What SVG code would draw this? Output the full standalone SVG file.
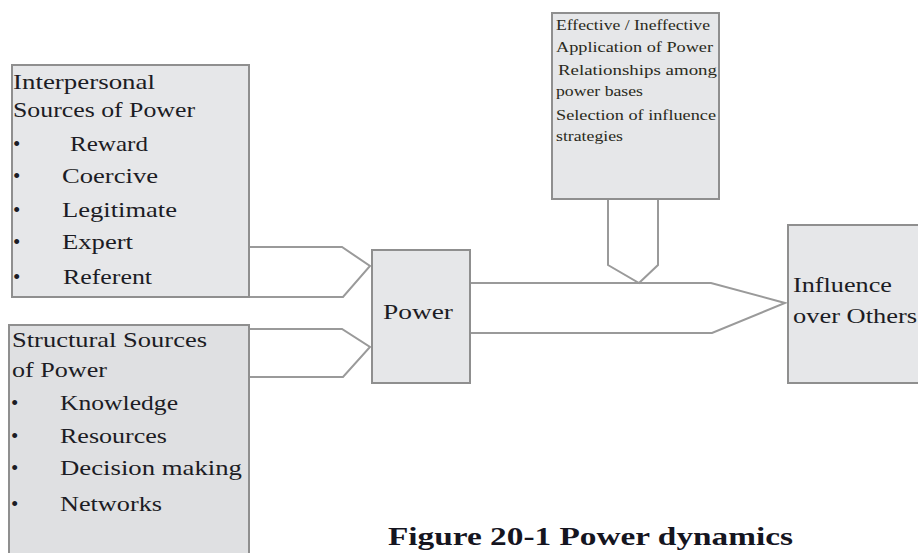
<svg xmlns="http://www.w3.org/2000/svg" width="918" height="553" viewBox="0 0 918 553">
<style>
.box{fill:#e6e7e9;stroke:#8f8f8f;stroke-width:2}
.box2{fill:#dfe0e2;stroke:#8f8f8f;stroke-width:2}
.con{fill:none;stroke:#9a9a9a;stroke-width:2;stroke-linejoin:miter}
.t{font-family:"Liberation Serif","Times New Roman",serif;font-size:21px;fill:#1c1c24}
.s{font-family:"Liberation Serif","Times New Roman",serif;font-size:15px;fill:#2a2a20}
.cap{font-family:"Liberation Serif","Times New Roman",serif;font-size:26px;font-weight:bold;fill:#15151f}
</style>
<rect width="918" height="553" fill="#ffffff"/>
<g id="connectors">
<path class="con" d="M249,247 H342 L370,266 L343,297 H249"/>
<path class="con" d="M249,329 H342 L370,347 L343,377 H249"/>
<path class="con" d="M470,283 H711 L785,303 L712,333 H470"/>
<path class="con" d="M608,199 V265 L639,283 L658,265 V199"/>
</g>
<g id="node-interpersonal">
<rect class="box" x="12" y="65" width="237" height="232"/>
<text class="t" x="13" y="89" textLength="142" lengthAdjust="spacingAndGlyphs">Interpersonal</text>
<text class="t" x="13" y="117" textLength="182" lengthAdjust="spacingAndGlyphs">Sources of Power</text>
<text class="t" x="13" y="151">•</text>
<text class="t" x="70" y="151" textLength="78" lengthAdjust="spacingAndGlyphs">Reward</text>
<text class="t" x="13" y="183">•</text>
<text class="t" x="62" y="183" textLength="96" lengthAdjust="spacingAndGlyphs">Coercive</text>
<text class="t" x="13" y="217">•</text>
<text class="t" x="62" y="217" textLength="115" lengthAdjust="spacingAndGlyphs">Legitimate</text>
<text class="t" x="13" y="249">•</text>
<text class="t" x="62" y="249" textLength="71" lengthAdjust="spacingAndGlyphs">Expert</text>
<text class="t" x="13" y="284">•</text>
<text class="t" x="63" y="284" textLength="89" lengthAdjust="spacingAndGlyphs">Referent</text>
</g>
<g id="node-structural">
<rect class="box2" x="9" y="325" width="240" height="240"/>
<text class="t" x="12" y="347" textLength="195" lengthAdjust="spacingAndGlyphs">Structural Sources</text>
<text class="t" x="12" y="377" textLength="95" lengthAdjust="spacingAndGlyphs">of Power</text>
<text class="t" x="11" y="410">•</text>
<text class="t" x="60" y="410" textLength="118" lengthAdjust="spacingAndGlyphs">Knowledge</text>
<text class="t" x="11" y="443">•</text>
<text class="t" x="60" y="443" textLength="107" lengthAdjust="spacingAndGlyphs">Resources</text>
<text class="t" x="11" y="475">•</text>
<text class="t" x="60" y="475" textLength="182" lengthAdjust="spacingAndGlyphs">Decision making</text>
<text class="t" x="11" y="511">•</text>
<text class="t" x="60" y="511" textLength="102" lengthAdjust="spacingAndGlyphs">Networks</text>
</g>
<g id="node-power">
<rect class="box" x="372" y="250" width="98" height="133"/>
<text class="t" x="383" y="319" font-size="25" textLength="70" lengthAdjust="spacingAndGlyphs">Power</text>
</g>
<g id="node-application">
<rect class="box" x="552" y="13" width="167" height="186"/>
<text class="s" x="556" y="30" textLength="154" lengthAdjust="spacingAndGlyphs">Effective / Ineffective</text>
<text class="s" x="556" y="52" textLength="157" lengthAdjust="spacingAndGlyphs">Application of Power</text>
<text class="s" x="558" y="75" textLength="159" lengthAdjust="spacingAndGlyphs">Relationships among</text>
<text class="s" x="556" y="96" textLength="87" lengthAdjust="spacingAndGlyphs">power bases</text>
<text class="s" x="556" y="120" textLength="160" lengthAdjust="spacingAndGlyphs">Selection of influence</text>
<text class="s" x="556" y="141" textLength="67" lengthAdjust="spacingAndGlyphs">strategies</text>
</g>
<g id="node-influence">
<rect class="box" x="788" y="225" width="140" height="158"/>
<text class="t" x="793" y="292" textLength="99" lengthAdjust="spacingAndGlyphs">Influence</text>
<text class="t" x="793" y="323" textLength="124" lengthAdjust="spacingAndGlyphs">over Others</text>
</g>
<text class="cap" x="388" y="545" textLength="405" lengthAdjust="spacingAndGlyphs">Figure 20-1 Power dynamics</text>
</svg>
